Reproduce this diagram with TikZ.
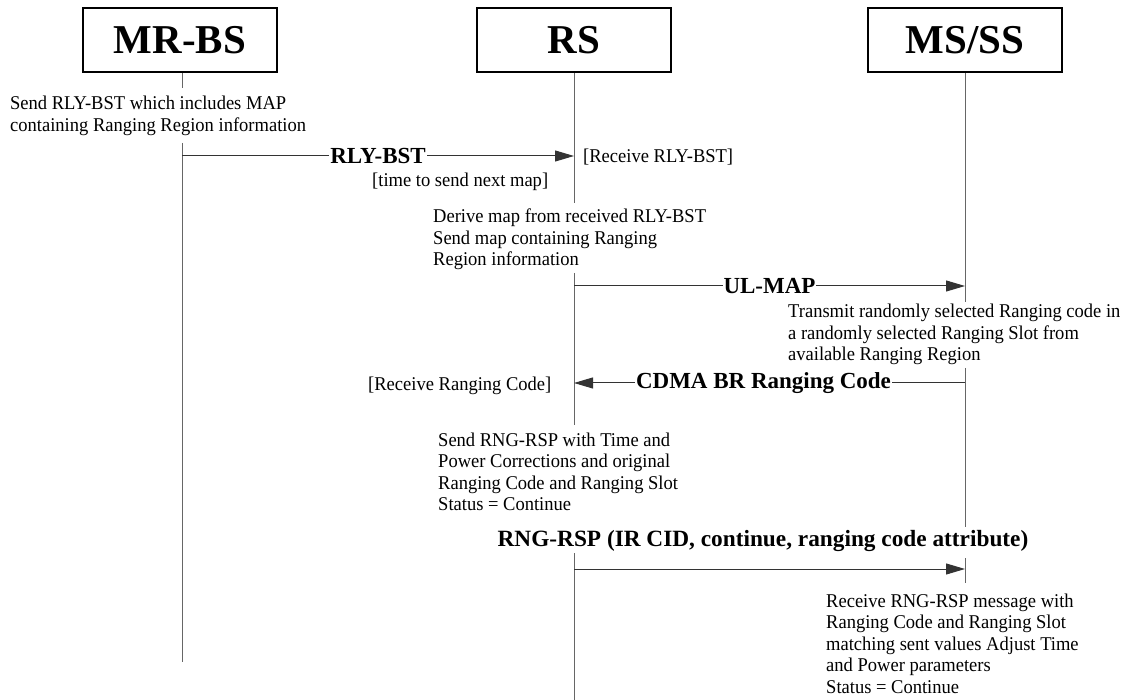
\documentclass[tikz,border=0pt]{standalone}
\usepackage{fontspec}
\setmainfont{Liberation Serif}
\newfontfamily\bodyfont[FakeStretch=0.95]{Liberation Serif}
\usetikzlibrary{arrows.meta}
\begin{document}
\begin{tikzpicture}[x=1pt,y=-1pt,
  actor/.style={draw=black, line width=2.2pt, minimum width=194pt, minimum height=64pt, inner sep=0pt,
    font=\fontsize{41}{41}\selectfont\bfseries},
  life/.style={draw=black!60, line width=1pt},
  msg/.style={draw=black!80, line width=1pt, -{Triangle[length=19pt,width=11pt]}},
  lbl/.style={fill=white, inner xsep=1pt, inner ysep=2pt, font=\fontsize{23}{23}\selectfont\bfseries},
  toplbl/.style={inner sep=0pt, anchor=base, font=\fontsize{23.3}{23.3}\selectfont\bfseries},
  note/.style={anchor=base west, align=left, inner sep=0pt, font=\bodyfont\fontsize{19.5}{21.5}\selectfont}]
\useasboundingbox (0,0) rectangle (1130,700);

% actors
\node[actor] (mrbs) at (180,40) {MR-BS};
\node[actor] (rs) at (574,40) {RS};
\node[actor] (ms) at (965,40) {MS/SS};

% lifeline coordinates
\coordinate (mrA) at (182,88);
\coordinate (mrB) at (182,143);
\coordinate (mrEnd) at (182,662);
\coordinate (rsA) at (574,203);
\coordinate (rsB) at (574,273);
\coordinate (rsC) at (574,425);
\coordinate (rsD) at (574,553);
\coordinate (rsEnd) at (574,700);
\coordinate (msA) at (965,302);
\coordinate (msB) at (965,368);
\coordinate (msC) at (965,527);
\coordinate (msD) at (965,558);
\coordinate (msEnd) at (965,583);

% lifelines
\draw[life] (mrbs.south -| mrA) -- (mrA);
\draw[life] (mrB) -- (mrEnd);
\draw[life] (rs.south) -- (rsA);
\draw[life] (rsB) -- (rsC);
\draw[life] (rsD) -- (rsEnd);
\draw[life] (ms.south) -- (msA);
\draw[life] (msB) -- (msC);
\draw[life] (msD) -- (msEnd);

% message coordinates
\coordinate (m1s) at (182,156);
\coordinate (m1e) at (574,156);
\coordinate (m2s) at (574,286);
\coordinate (m2e) at (965,286);
\coordinate (m3s) at (965,383);
\coordinate (m3e) at (574,383);
\coordinate (m4s) at (574,569);
\coordinate (m4e) at (965,569);

% messages
\draw[msg] (m1s) -- node[lbl] (l1) {RLY-BST} (m1e);
\draw[msg] (m2s) -- node[lbl] (l2) {UL-MAP} (m2e);
\draw[msg] (m3s) -- node[lbl, xshift=-6pt] (l3) {CDMA BR Ranging Code} (m3e);
\draw[msg] (m4s) -- (m4e);
\node[toplbl] (l4) at (763,546) {RNG-RSP (IR CID, continue, ranging code attribute)};

% notes (anchor = baseline of the last line)
\node[note] (n1) at (10,131.5) {Send RLY-BST which includes MAP\\containing Ranging Region information};
\node[note] (n2) at (583,163) {[Receive RLY-BST]};
\node[note] (n3) at (372,187) {[time to send next map]};
\node[note] (n4) at (433,266) {Derive map from received RLY-BST\\Send map containing Ranging\\Region information};
\node[note] (n5) at (788,361) {Transmit randomly selected Ranging code in\\a randomly selected Ranging Slot from\\available Ranging Region};
\node[note] (n6) at (368,391) {[Receive Ranging Code]};
\node[note] (n7) at (438,510.5) {Send RNG-RSP with Time and\\Power Corrections and original\\Ranging Code and Ranging Slot\\Status = Continue};
\node[note] (n8) at (826,693) {Receive RNG-RSP message with\\Ranging Code and Ranging Slot\\matching sent values Adjust Time\\and Power parameters\\Status = Continue};
\end{tikzpicture}
\end{document}
